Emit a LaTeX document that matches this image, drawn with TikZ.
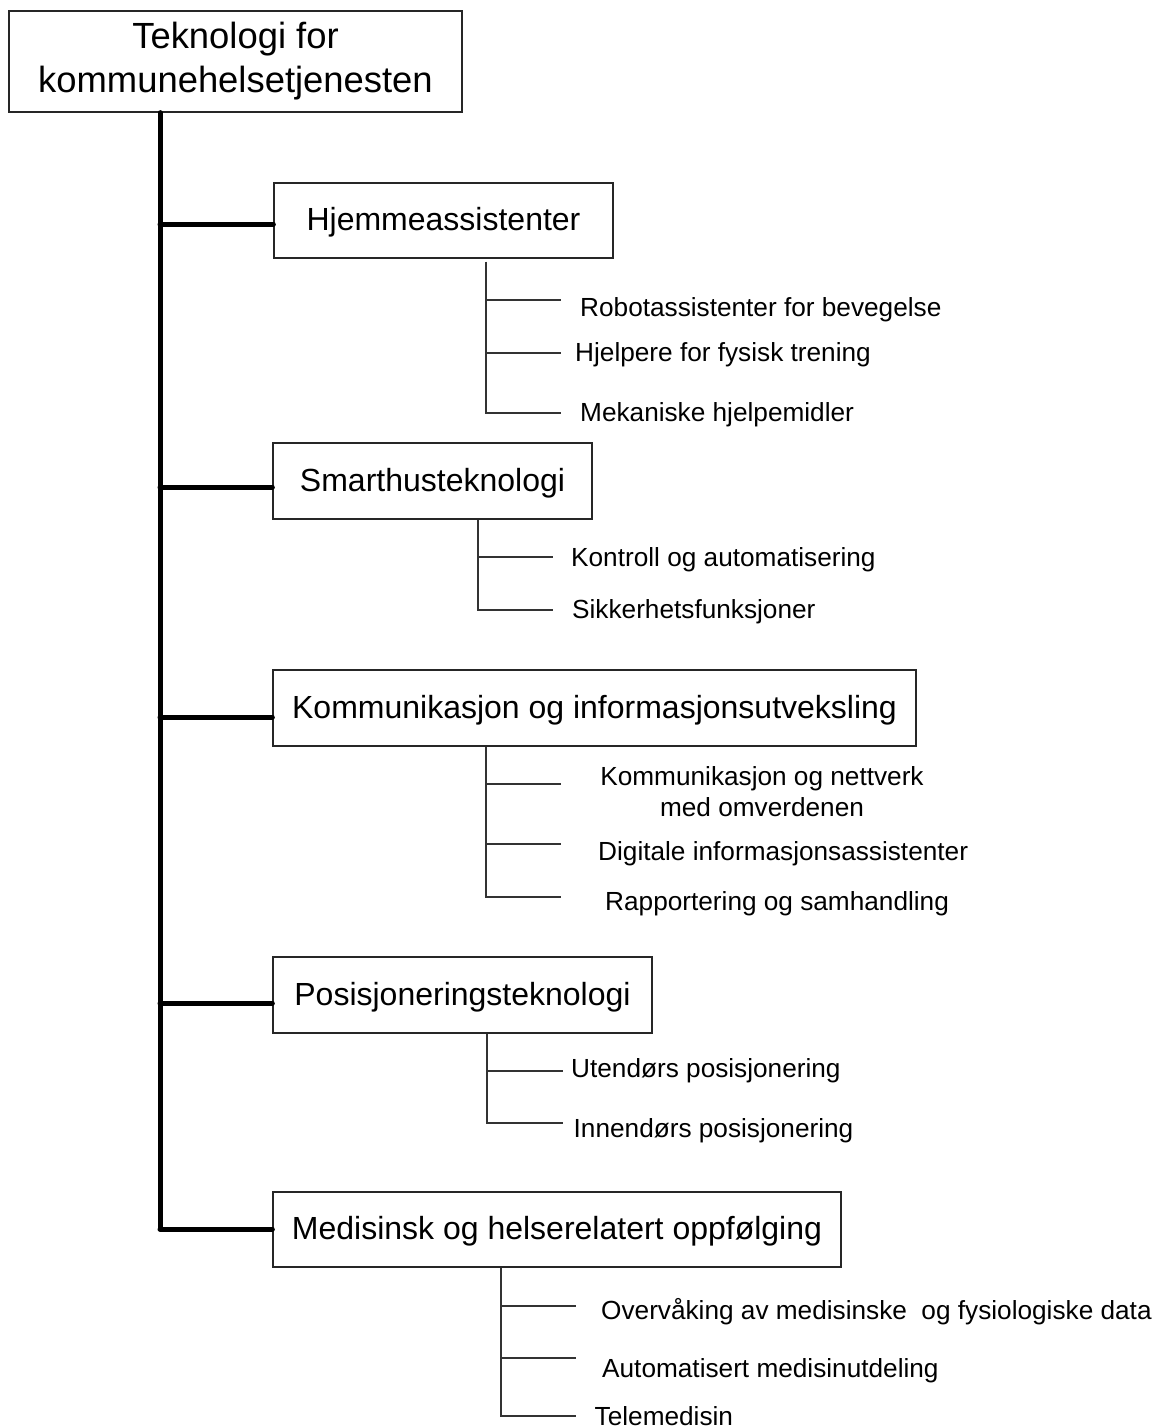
\documentclass[tikz,border=0pt]{standalone}
\usepackage{fontspec}
\setmainfont{Liberation Sans}
\begin{document}
\begin{tikzpicture}[x=1pt,y=-1pt,
  box/.style={draw=black!85, line width=1.3pt, rectangle, inner sep=0pt,
    font=\fontsize{32}{38}\selectfont, text height=23pt, text depth=3pt, anchor=center},
  rootbox/.style={draw=black!85, line width=1.3pt, rectangle, inner sep=0pt,
    font=\fontsize{36.4}{44}\selectfont, align=center, anchor=center},
  leaf/.style={inner sep=0pt, anchor=base west, font=\fontsize{26.2}{31.7}\selectfont},
  leafml/.style={inner sep=0pt, anchor=center, align=center, font=\fontsize{26.2}{31.7}\selectfont},
  spinepath/.style={line width=5pt, line cap=round, draw=black},
  twig/.style={line width=1.3pt, draw=black!80}]
\useasboundingbox (0,0) rectangle (1163,1428);

% root
\node[rootbox, minimum width=453pt, minimum height=101pt] (root) at (235.5,61.5)
  {Teknologi for\\kommunehelsetjenesten};

% category boxes
\node[box, minimum width=339pt, minimum height=75pt] (b1) at (443.5,220.5) {Hjemmeassistenter};
\node[box, minimum width=319pt, minimum height=76pt] (b2) at (432.5,481) {Smarthusteknologi};
\node[box, minimum width=643pt, minimum height=76pt] (b3) at (594.5,708) {Kommunikasjon og informasjonsutveksling};
\node[box, minimum width=379pt, minimum height=76pt] (b4) at (462.5,995) {Posisjoneringsteknologi};
\node[box, minimum width=568pt, minimum height=75pt] (b5) at (557,1229.5) {Medisinsk og helserelatert oppfølging};

% spine
\coordinate (sx) at (160,0);
\coordinate (j1) at (160,224);
\coordinate (j2) at (160,487);
\coordinate (j3) at (160,717);
\coordinate (j4) at (160,1003);
\coordinate (j5) at (160,1229);
\draw[spinepath] (root.south -| sx) -- (j5);
\foreach \i in {1,...,5} {
  \draw[spinepath] (j\i) -- (j\i -| b\i.west);
}

% leaves: Hjemmeassistenter
\node[leaf] (l11) at (580,316) {Robotassistenter for bevegelse};
\node[leaf] (l12) at (575,361) {Hjelpere for fysisk trening};
\node[leaf] (l13) at (580,421.7) {Mekaniske hjelpemidler};
\coordinate (k1) at (486,413);
\coordinate (e11) at (561,300);
\coordinate (e12) at (561,353);
\coordinate (e13) at (561,413);
\draw[twig] ([yshift=-3pt]b1.south -| k1) |- (e13);
\draw[twig] (k1 |- e11) -- (e11);
\draw[twig] (k1 |- e12) -- (e12);

% leaves: Smarthusteknologi
\node[leaf] (l21) at (571,566) {Kontroll og automatisering};
\node[leaf] (l22) at (572,618) {Sikkerhetsfunksjoner};
\coordinate (k2) at (478,610);
\coordinate (e21) at (553,557);
\coordinate (e22) at (553,610);
\draw[twig] (b2.south -| k2) |- (e22);
\draw[twig] (k2 |- e21) -- (e21);

% leaves: Kommunikasjon
\node[leafml] (l31) at (762,791.5) {Kommunikasjon og nettverk\\med omverdenen};
\node[leaf] (l32) at (598,860) {Digitale informasjonsassistenter};
\node[leaf] (l33) at (605,910) {Rapportering og samhandling};
\coordinate (k3) at (486,897);
\coordinate (e31) at (561,784);
\coordinate (e32) at (561,844);
\coordinate (e33) at (561,897);
\draw[twig] (b3.south -| k3) |- (e33);
\draw[twig] (k3 |- e31) -- (e31);
\draw[twig] (k3 |- e32) -- (e32);

% leaves: Posisjonering
\node[leaf] (l41) at (571,1077) {Utendørs posisjonering};
\node[leaf] (l42) at (573.5,1137) {Innendørs posisjonering};
\coordinate (k4) at (487,1123);
\coordinate (e41) at (563,1071);
\coordinate (e42) at (563,1123);
\draw[twig] (b4.south -| k4) |- (e42);
\draw[twig] (k4 |- e41) -- (e41);

% leaves: Medisinsk
\node[leaf] (l51) at (601,1319) {Overvåking av medisinske~ og fysiologiske data};
\node[leaf] (l52) at (602,1377) {Automatisert medisinutdeling};
\node[leaf] (l53) at (594.5,1425) {Telemedisin};
\coordinate (k5) at (501,1416);
\coordinate (e51) at (576,1306);
\coordinate (e52) at (576,1358);
\coordinate (e53) at (576,1416);
\draw[twig] (b5.south -| k5) |- (e53);
\draw[twig] (k5 |- e51) -- (e51);
\draw[twig] (k5 |- e52) -- (e52);
\end{tikzpicture}
\end{document}
